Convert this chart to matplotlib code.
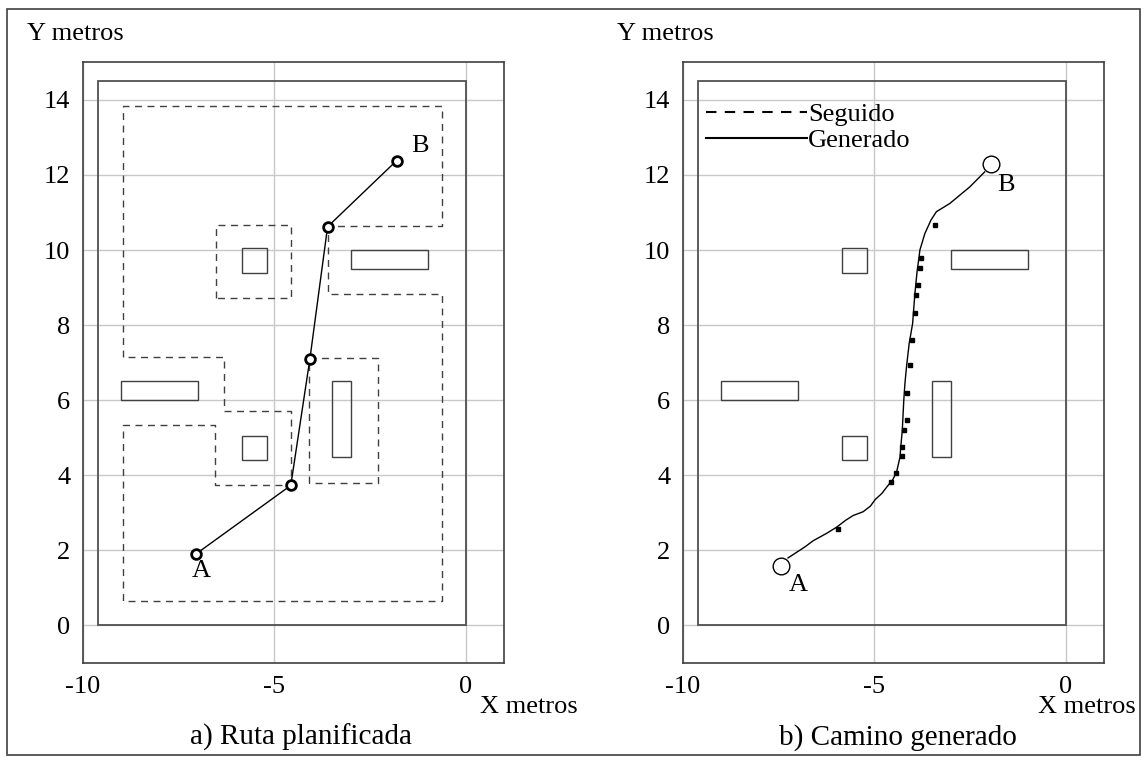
import matplotlib
matplotlib.use("Agg")
import matplotlib.pyplot as plt
from matplotlib.lines import Line2D
from matplotlib.patches import Rectangle

plt.rcParams['font.family'] = ['Liberation Serif', 'DejaVu Serif']
plt.rcParams['axes.unicode_minus'] = False

# walls / obstacles (x0, y0, w, h)
wall = (-9.6, 0.0, 9.6, 14.5)
obstacles = [(-5.85, 9.4, 0.65, 0.65),
             (-3.0, 9.5, 2.0, 0.5),
             (-3.5, 4.5, 0.5, 2.0),
             (-5.85, 4.4, 0.65, 0.65),
             (-9.0, 6.0, 2.0, 0.5)]

# free-space cells of the planner (dashed)
cell_outer_x = [-8.96, -8.96, -0.63, -0.63, -3.6, -3.6, -0.63, -0.63, -8.96, -8.96,
                -6.55, -6.55, -4.57, -4.57, -6.31, -6.31, -8.96]
cell_outer_y = [7.15, 13.84, 13.84, 10.63, 10.63, 8.84, 8.84, 0.66, 0.66, 5.35,
                5.35, 3.75, 3.75, 5.70, 5.70, 7.15, 7.15]
cell_top_x = [-6.53, -6.53, -4.57, -4.57, -6.53]
cell_top_y = [8.72, 10.66, 10.66, 8.72, 8.72]
cell_right_x = [-4.1, -4.1, -2.29, -2.29, -4.1]
cell_right_y = [3.79, 7.12, 7.12, 3.79, 3.79]

# planned route
route_x = [-7.05, -4.57, -4.07, -3.61, -1.81]
route_y = [1.90, 3.73, 7.11, 10.62, 12.38]

# generated path
gen_x = [-7.25, -7.07, -6.80, -6.59, -6.25, -5.98, -5.75, -5.55, -5.29, -5.10, -4.98,
         -4.80, -4.68, -4.52, -4.42, -4.33, -4.30, -4.27, -4.23, -4.20, -4.16, -4.09,
         -4.0, -3.97, -3.94, -3.88, -3.84, -3.81, -3.68, -3.52, -3.38, -3.03, -2.51, -2.12]
gen_y = [1.80, 1.92, 2.10, 2.26, 2.45, 2.62, 2.80, 2.93, 3.03, 3.18, 3.35,
         3.52, 3.68, 3.88, 4.08, 4.48, 4.85, 5.19, 6.0, 6.45, 6.88, 7.51,
         8.04, 8.45, 8.84, 9.46, 9.75, 10.0, 10.44, 10.80, 11.02, 11.24, 11.68, 12.08]

# followed path samples
seg_x = [-5.94, -4.56, -4.43, -4.27, -4.27, -4.22, -4.14, -4.14, -4.07, -4.01,
         -3.94, -3.92, -3.85, -3.80, -3.78, -3.42]
seg_y = [2.57, 3.83, 4.07, 4.52, 4.75, 5.21, 5.46, 6.20, 6.95, 7.61,
         8.31, 8.81, 9.06, 9.51, 9.80, 10.66]

start_b = (-7.43, 1.59)
goal_b = (-1.95, 12.29)

fig = plt.figure(figsize=(11.45, 7.6), dpi=100)
fig.patches.append(Rectangle((0.0064, 0.006), 0.9892, 0.982, transform=fig.transFigure,
                             fill=False, edgecolor='#404040', lw=1.2))

ax1 = fig.add_axes([0.0722, 0.1276, 0.3682, 0.7904])
ax2 = fig.add_axes([0.5962, 0.1276, 0.3682, 0.7904])

for ax in (ax1, ax2):
    ax.set_xlim(-10, 1)
    ax.set_ylim(-1, 15)
    ax.set_xticks([-10, -5, 0])
    ax.set_yticks(range(0, 15, 2))
    ax.grid(True, color='#c8c8c8', lw=1.0)
    ax.set_axisbelow(True)
    ax.tick_params(length=0, labelsize=19, pad=9)
    for s in ax.spines.values():
        s.set_color('#404040')
        s.set_linewidth(1.2)
    ax.add_patch(Rectangle(wall[:2], wall[2], wall[3], fill=False,
                           edgecolor='#505050', lw=1.3))
    for ob in obstacles:
        ax.add_patch(Rectangle(ob[:2], ob[2], ob[3], fill=False,
                               edgecolor='#404040', lw=1.0))

# panel a
dash = (0, (5, 4))
for cx, cy in [(cell_outer_x, cell_outer_y), (cell_top_x, cell_top_y),
               (cell_right_x, cell_right_y)]:
    ax1.plot(cx, cy, color='#404040', lw=1.0, linestyle=dash)
ax1.plot(route_x, route_y, color='black', lw=1.0, marker='o', ms=7,
         mfc='white', mec='black', mew=2)
ax1.text(route_x[0] + 0.15, route_y[0] - 0.45, 'A', fontsize=19, ha='center', va='center')
ax1.text(route_x[-1] + 0.6, route_y[-1] + 0.4, 'B', fontsize=19, ha='center', va='center')

# panel b
ax2.plot(gen_x, gen_y, color='black', lw=1.0)
ax2.plot(seg_x, seg_y, linestyle='none', marker='s', ms=2.5, color='black')
ax2.plot(*start_b, marker='o', ms=12, mfc='white', mec='black', mew=1.0)
ax2.plot(*goal_b, marker='o', ms=12, mfc='white', mec='black', mew=1.0)
ax2.text(start_b[0] + 0.45, start_b[1] - 0.5, 'A', fontsize=19, ha='center', va='center')
ax2.text(goal_b[0] + 0.38, goal_b[1] - 0.55, 'B', fontsize=19, ha='center', va='center')
handles = [Line2D([], [], color='black', lw=1.5, linestyle=(0, (5, 4))),
           Line2D([], [], color='black', lw=1.5)]
ax2.legend(handles, ['Seguido', 'Generado'], loc='upper left', frameon=False,
           fontsize=19, handlelength=3.8, handletextpad=0.05, labelspacing=0.1,
           borderaxespad=0.0, bbox_to_anchor=(0.031, 0.95))

# axis captions and panel titles
fig.text(0.024, 0.955, 'Y metros', fontsize=19, ha='left', va='center')
fig.text(0.539, 0.955, 'Y metros', fontsize=19, ha='left', va='center')
fig.text(0.4192, 0.070, 'X metros', fontsize=19, ha='left', va='center')
fig.text(0.9066, 0.070, 'X metros', fontsize=19, ha='left', va='center')
fig.text(0.2625, 0.030, 'a) Ruta planificada', fontsize=21, ha='center', va='center')
fig.text(0.7845, 0.030, 'b) Camino generado', fontsize=21, ha='center', va='center')

fig.savefig('out.png', dpi=100)
